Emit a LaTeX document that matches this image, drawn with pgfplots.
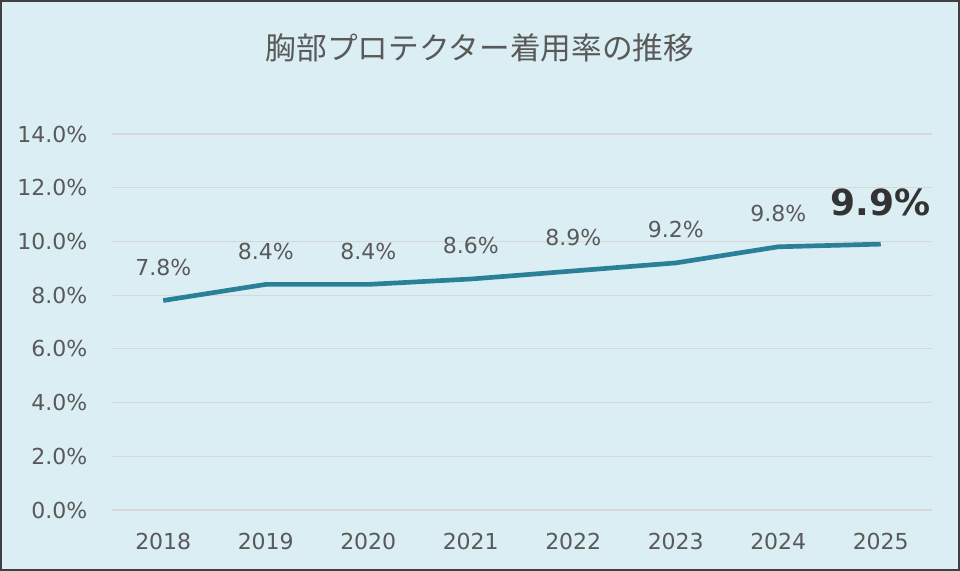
\documentclass[border=0pt]{standalone}
\usepackage{pgfplots}
\pgfplotsset{compat=1.18}
\usepackage{fontspec}
\setmainfont{DejaVu Sans}
\newfontfamily\cjk{Noto Sans CJK JP}

\definecolor{bgblue}{RGB}{219,238,243}
\definecolor{frame}{RGB}{64,64,64}
\definecolor{linecol}{RGB}{41,128,151}
\definecolor{txt}{RGB}{89,89,89}
\definecolor{gridc}{RGB}{215,215,215}

\begin{document}
\begin{tikzpicture}
% chart area: 960x571 px at 0.75pt per px
\draw[frame, line width=1.5pt, fill=bgblue] (0.75pt,0.75pt) rectangle (719.25pt,427.5pt);
\node[txt, font=\cjk\fontsize{23}{27}\selectfont] at (360pt,392pt) {胸部プロテクター着用率の推移};

\begin{axis}[
    at={(84pt,45.75pt)},
    anchor=south west,
    scale only axis,
    width=615pt,
    height=282pt,
    xmin=-0.5, xmax=7.5,
    ymin=0, ymax=14,
    ytick={0,2,...,14},
    xtick={0,...,7},
    xticklabels={2018,2019,2020,2021,2022,2023,2024,2025},
    axis line style={draw=none},
    major tick length=0pt,
    ymajorgrids=true,
    grid style={gridc, line width=0.8pt},
    yticklabel={\pgfmathprintnumber[fixed,fixed zerofill,precision=1]{\tick}\%},
    /pgf/number format/assume math mode=true,
    ticklabel style={txt, font=\fontsize{16.5}{19}\selectfont},
    yticklabel style={xshift=-15pt},
    xticklabel style={yshift=-14pt},
    clip=false,
]
\addplot[linecol, line width=3.5pt, line join=round] coordinates {
    (0,7.8) (1,8.4) (2,8.4) (3,8.6) (4,8.9) (5,9.2) (6,9.8) (7,9.9)
};
\addplot[draw=none, nodes near coords={\pgfmathprintnumber[fixed,fixed zerofill,precision=1]{\pgfplotspointmeta}\%},
    nodes near coords style={txt, anchor=center, yshift=25pt, font=\fontsize{16.5}{19}\selectfont}]
    coordinates {
    (0,7.8) (1,8.4) (2,8.4) (3,8.6) (4,8.9) (5,9.2) (6,9.8)
};
\addplot[draw=none, nodes near coords={\pgfmathprintnumber[fixed,fixed zerofill,precision=1]{\pgfplotspointmeta}\%},
    nodes near coords style={black!80, anchor=center, yshift=31pt, font=\bfseries\fontsize{27}{31}\selectfont}]
    coordinates {
    (7,9.9)
};
\end{axis}
\end{tikzpicture}
\end{document}
